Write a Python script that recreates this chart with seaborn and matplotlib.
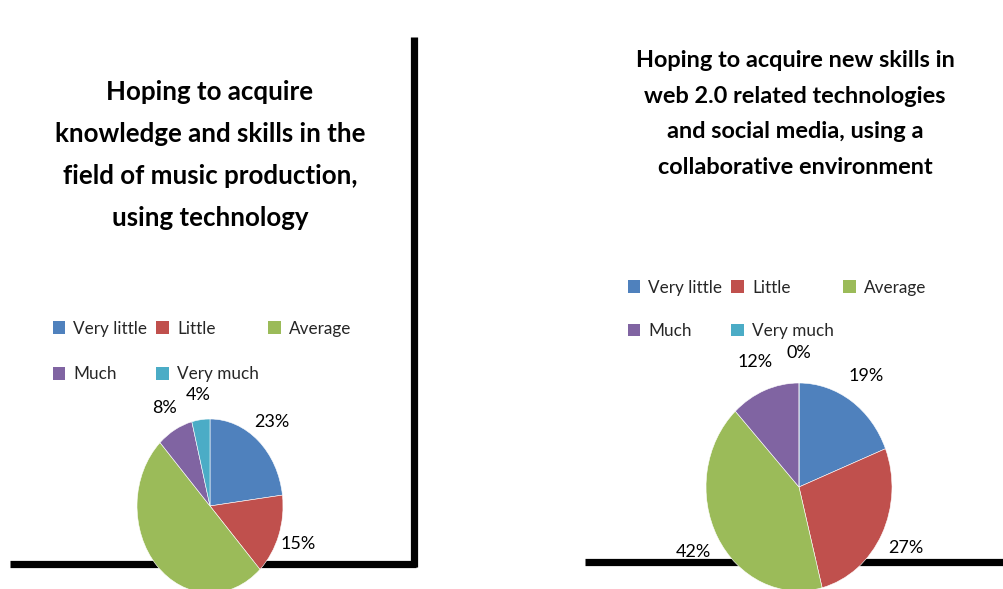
import matplotlib
matplotlib.use("Agg")
import matplotlib.pyplot as plt
from matplotlib.patches import Patch
import seaborn as sns

# ---- data ----
categories = ["Very little", "Little", "Average", "Much", "Very much"]
music_values = [23, 15, 50, 8, 4]
music_show_label = [True, True, False, True, True]
web_values = [19, 27, 42, 12, 0]
web_show_label = [True, True, True, True, True]

music_title = "Hoping to acquire\nknowledge and skills in the\nfield of music production,\nusing technology"
web_title = "Hoping to acquire new skills in\nweb 2.0 related technologies\nand social media, using a\ncollaborative environment"

palette = sns.color_palette(["#4F81BD", "#C0504D", "#9BBB59", "#8064A2", "#4BACC6"])

sns.set_theme(style="white")
plt.rcParams["font.family"] = ["Lato", "DejaVu Sans"]

W, H = 1004, 589
fig = plt.figure(figsize=(W / 100, H / 100), dpi=100)
fig.patch.set_facecolor("white")

# overlay axes in pixel units for frame rules and titles
bg = fig.add_axes([0, 0, 1, 1], zorder=0)
bg.set_xlim(0, W)
bg.set_ylim(H, 0)
bg.axis("off")

rule = dict(color="black", lw=5.2, solid_capstyle="butt")
bg.plot([10, 416], [563.5, 563.5], **rule)
bg.plot([414, 414], [37, 567], **rule)
bg.plot([585, W], [562, 562], **rule)

bg.text(210, 80, music_title, ha="center", va="top", fontsize=18.6,
        fontweight="bold", linespacing=1.9, color="black")
bg.text(795, 50, web_title, ha="center", va="top", fontsize=16.9,
        fontweight="bold", linespacing=1.86, color="black")


def pie_axes(cx, cy, rx, ry):
    return fig.add_axes([(cx - rx) / W, (H - (cy + ry)) / H, 2 * rx / W, 2 * ry / H], zorder=2)


def draw_pie(ax, values, show):
    wedges, _, autotexts = ax.pie(
        values, colors=palette, startangle=90, counterclock=False,
        autopct="%1.0f%%", pctdistance=1.29,
        wedgeprops=dict(linewidth=0.4, edgecolor="white"),
        textprops=dict(fontsize=13, color="black"),
    )
    for t, s in zip(autotexts, show):
        if not s:
            t.set_visible(False)
    ax.set_aspect("auto")
    ax.set_xlim(-1, 1)
    ax.set_ylim(-1, 1)
    for t in autotexts:
        t.set_clip_on(False)


ax1 = pie_axes(210, 506, 73, 87)
draw_pie(ax1, music_values, music_show_label)
ax2 = pie_axes(799, 487, 93, 104)
draw_pie(ax2, web_values, web_show_label)

# legend filled row by row: matplotlib fills columns, so reorder entries
order = [0, 3, 1, 4, 2]
handles = [Patch(facecolor=palette[i], edgecolor="none") for i in order]
labels = [categories[i] for i in order]
leg_kw = dict(ncol=3, frameon=False, fontsize=12.3, handlelength=0.75, handleheight=0.75,
              handletextpad=0.45, columnspacing=0.55, borderpad=0, loc="upper left")
fig.legend(handles, labels, bbox_to_anchor=(44 / W, 1 - 312 / H), labelspacing=1.75, **leg_kw)
fig.legend(handles, labels, bbox_to_anchor=(619 / W, 1 - 271 / H), labelspacing=1.6, **leg_kw)

fig.savefig("out.png", dpi=100, facecolor="white")
